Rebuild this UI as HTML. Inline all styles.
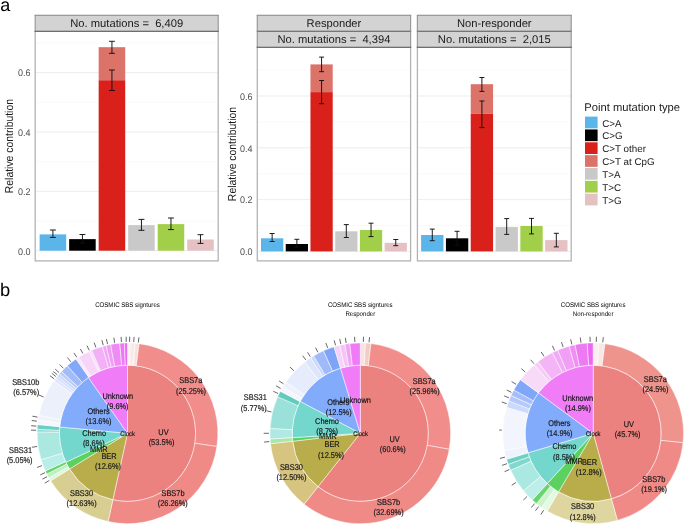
<!DOCTYPE html>
<html><head><meta charset="utf-8"><style>
html,body{margin:0;padding:0;background:#fff;}
svg{display:block;font-family:"Liberation Sans", sans-serif;will-change:transform;text-rendering:geometricPrecision;}
</style></head><body>
<svg width="685" height="525" viewBox="0 0 685 525">
<rect width="685" height="525" fill="#fff"/>
<rect x="35.2" y="31.3" width="183" height="229.6" fill="#fff"/>
<line x1="35.2" x2="218.2" y1="250.7" y2="250.7" stroke="#EBEBEB" stroke-width="0.9"/>
<line x1="35.2" x2="218.2" y1="221.02" y2="221.02" stroke="#F5F5F5" stroke-width="0.6"/>
<line x1="35.2" x2="218.2" y1="191.34" y2="191.34" stroke="#EBEBEB" stroke-width="0.9"/>
<line x1="35.2" x2="218.2" y1="161.66" y2="161.66" stroke="#F5F5F5" stroke-width="0.6"/>
<line x1="35.2" x2="218.2" y1="131.98" y2="131.98" stroke="#EBEBEB" stroke-width="0.9"/>
<line x1="35.2" x2="218.2" y1="102.3" y2="102.3" stroke="#F5F5F5" stroke-width="0.6"/>
<line x1="35.2" x2="218.2" y1="72.62" y2="72.62" stroke="#EBEBEB" stroke-width="0.9"/>
<line x1="35.2" x2="218.2" y1="42.94" y2="42.94" stroke="#F5F5F5" stroke-width="0.6"/>
<rect x="39.63" y="234.38" width="26.56" height="16.32" fill="#5BB5E8"/>
<rect x="69.14" y="239.12" width="26.56" height="11.58" fill="#000000"/>
<rect x="98.66" y="80.19" width="26.56" height="170.51" fill="#D9201A"/>
<rect x="98.66" y="47.18" width="26.56" height="33" fill="#DC7369"/>
<rect x="128.18" y="225.12" width="26.56" height="25.58" fill="#C9C9C9"/>
<rect x="157.69" y="224.11" width="26.56" height="26.59" fill="#A1CF49"/>
<rect x="187.21" y="239.51" width="26.56" height="11.19" fill="#E5C1C4"/>
<path d="M49.96 230H55.86M52.91 230V237.4M49.96 237.4H55.86" stroke="#111" stroke-width="0.95" fill="none"/>
<path d="M79.47 234.5H85.38M82.43 234.5V243M79.47 243H85.38" stroke="#111" stroke-width="0.95" fill="none"/>
<path d="M108.99 70H114.89M111.94 70V90.5M108.99 90.5H114.89" stroke="#111" stroke-width="0.95" fill="none"/>
<path d="M108.99 41.3H114.89M111.94 41.3V53.3M108.99 53.3H114.89" stroke="#111" stroke-width="0.95" fill="none"/>
<path d="M138.51 219.4H144.41M141.46 219.4V230.3M138.51 230.3H144.41" stroke="#111" stroke-width="0.95" fill="none"/>
<path d="M168.02 218H173.93M170.97 218V229.6M168.02 229.6H173.93" stroke="#111" stroke-width="0.95" fill="none"/>
<path d="M197.54 234.7H203.44M200.49 234.7V243.4M197.54 243.4H203.44" stroke="#111" stroke-width="0.95" fill="none"/>
<rect x="35.2" y="31.3" width="183" height="229.6" fill="none" stroke="#B3B3B3" stroke-width="1.3"/>
<rect x="35.2" y="15.3" width="183" height="16" fill="#D3D3D3"/>
<path d="M35.2 15.3V31.3M218.2 15.3V31.3" stroke="#9A9A9A" stroke-width="1.2"/>
<path d="M34.6 31.3H218.8" stroke="#555" stroke-width="1.1"/>
<path d="M34.6 15.3H218.8" stroke="#858585" stroke-width="1.1"/>
<text x="126.7" y="27" font-size="11.2" fill="#1A1A1A" text-anchor="middle" xml:space="preserve">No. mutations =  6,409</text>
<text transform="translate(30.6,254.5) scale(1,1.07)" font-size="9" fill="#4D4D4D" text-anchor="end">0.0</text>
<text transform="translate(30.6,195.14) scale(1,1.07)" font-size="9" fill="#4D4D4D" text-anchor="end">0.2</text>
<text transform="translate(30.6,135.78) scale(1,1.07)" font-size="9" fill="#4D4D4D" text-anchor="end">0.4</text>
<text transform="translate(30.6,76.42) scale(1,1.07)" font-size="9" fill="#4D4D4D" text-anchor="end">0.6</text>
<text transform="translate(13.4,146.1) rotate(-90) scale(1,1.1)" font-size="10.4" fill="#1A1A1A" text-anchor="middle">Relative contribution</text>
<rect x="257.3" y="47.2" width="153.3" height="213.7" fill="#fff"/>
<line x1="257.3" x2="410.6" y1="251.4" y2="251.4" stroke="#EBEBEB" stroke-width="0.9"/>
<line x1="257.3" x2="410.6" y1="225.5" y2="225.5" stroke="#F5F5F5" stroke-width="0.6"/>
<line x1="257.3" x2="410.6" y1="199.6" y2="199.6" stroke="#EBEBEB" stroke-width="0.9"/>
<line x1="257.3" x2="410.6" y1="173.7" y2="173.7" stroke="#F5F5F5" stroke-width="0.6"/>
<line x1="257.3" x2="410.6" y1="147.8" y2="147.8" stroke="#EBEBEB" stroke-width="0.9"/>
<line x1="257.3" x2="410.6" y1="121.9" y2="121.9" stroke="#F5F5F5" stroke-width="0.6"/>
<line x1="257.3" x2="410.6" y1="96" y2="96" stroke="#EBEBEB" stroke-width="0.9"/>
<line x1="257.3" x2="410.6" y1="70.1" y2="70.1" stroke="#F5F5F5" stroke-width="0.6"/>
<rect x="261.01" y="238.3" width="22.25" height="13.1" fill="#5BB5E8"/>
<rect x="285.73" y="244" width="22.25" height="7.4" fill="#000000"/>
<rect x="310.46" y="92.1" width="22.25" height="159.3" fill="#D9201A"/>
<rect x="310.46" y="64.4" width="22.25" height="27.7" fill="#DC7369"/>
<rect x="335.19" y="231.3" width="22.25" height="20.1" fill="#C9C9C9"/>
<rect x="359.91" y="230" width="22.25" height="21.4" fill="#A1CF49"/>
<rect x="384.64" y="242.8" width="22.25" height="8.6" fill="#E5C1C4"/>
<path d="M269.66 233.5H274.61M272.14 233.5V241.5M269.66 241.5H274.61" stroke="#111" stroke-width="0.95" fill="none"/>
<path d="M294.39 239.3H299.33M296.86 239.3V247M294.39 247H299.33" stroke="#111" stroke-width="0.95" fill="none"/>
<path d="M319.11 80.5H324.06M321.59 80.5V103.7M319.11 103.7H324.06" stroke="#111" stroke-width="0.95" fill="none"/>
<path d="M319.11 57.1H324.06M321.59 57.1V71.7M319.11 71.7H324.06" stroke="#111" stroke-width="0.95" fill="none"/>
<path d="M343.84 224.6H348.79M346.31 224.6V237.5M343.84 237.5H348.79" stroke="#111" stroke-width="0.95" fill="none"/>
<path d="M368.57 223.2H373.51M371.04 223.2V236.6M368.57 236.6H373.51" stroke="#111" stroke-width="0.95" fill="none"/>
<path d="M393.29 239.5H398.24M395.76 239.5V245.7M393.29 245.7H398.24" stroke="#111" stroke-width="0.95" fill="none"/>
<rect x="257.3" y="47.2" width="153.3" height="213.7" fill="none" stroke="#B3B3B3" stroke-width="1.3"/>
<rect x="257.3" y="15.3" width="153.3" height="16" fill="#D3D3D3"/>
<rect x="257.3" y="31.3" width="153.3" height="15.9" fill="#D3D3D3"/>
<path d="M257.3 15.3V31.3M410.6 15.3V31.3" stroke="#9A9A9A" stroke-width="1.2"/>
<path d="M256.7 31.3H411.2" stroke="#555" stroke-width="1.1"/>
<path d="M256.7 15.3H411.2" stroke="#858585" stroke-width="1.1"/>
<text x="333.95" y="27" font-size="11.2" fill="#1A1A1A" text-anchor="middle" xml:space="preserve">Responder</text>
<path d="M257.3 31.3V47.2M410.6 31.3V47.2" stroke="#9A9A9A" stroke-width="1.2"/>
<path d="M256.7 47.2H411.2" stroke="#555" stroke-width="1.1"/>
<text x="333.95" y="42.9" font-size="11.2" fill="#1A1A1A" text-anchor="middle" xml:space="preserve">No. mutations =  4,394</text>
<text transform="translate(252.6,255.2) scale(1,1.07)" font-size="9" fill="#4D4D4D" text-anchor="end">0.0</text>
<text transform="translate(252.6,203.4) scale(1,1.07)" font-size="9" fill="#4D4D4D" text-anchor="end">0.2</text>
<text transform="translate(252.6,151.6) scale(1,1.07)" font-size="9" fill="#4D4D4D" text-anchor="end">0.4</text>
<text transform="translate(252.6,99.8) scale(1,1.07)" font-size="9" fill="#4D4D4D" text-anchor="end">0.6</text>
<text transform="translate(235.5,154.05) rotate(-90) scale(1,1.1)" font-size="10.4" fill="#1A1A1A" text-anchor="middle">Relative contribution</text>
<rect x="417.4" y="47.2" width="153.8" height="213.7" fill="#fff"/>
<line x1="417.4" x2="571.2" y1="251.4" y2="251.4" stroke="#EBEBEB" stroke-width="0.9"/>
<line x1="417.4" x2="571.2" y1="225.5" y2="225.5" stroke="#F5F5F5" stroke-width="0.6"/>
<line x1="417.4" x2="571.2" y1="199.6" y2="199.6" stroke="#EBEBEB" stroke-width="0.9"/>
<line x1="417.4" x2="571.2" y1="173.7" y2="173.7" stroke="#F5F5F5" stroke-width="0.6"/>
<line x1="417.4" x2="571.2" y1="147.8" y2="147.8" stroke="#EBEBEB" stroke-width="0.9"/>
<line x1="417.4" x2="571.2" y1="121.9" y2="121.9" stroke="#F5F5F5" stroke-width="0.6"/>
<line x1="417.4" x2="571.2" y1="96" y2="96" stroke="#EBEBEB" stroke-width="0.9"/>
<line x1="417.4" x2="571.2" y1="70.1" y2="70.1" stroke="#F5F5F5" stroke-width="0.6"/>
<rect x="421.12" y="235" width="22.33" height="16.4" fill="#5BB5E8"/>
<rect x="445.93" y="238.3" width="22.33" height="13.1" fill="#000000"/>
<rect x="470.73" y="113.9" width="22.33" height="137.5" fill="#D9201A"/>
<rect x="470.73" y="84.2" width="22.33" height="29.7" fill="#DC7369"/>
<rect x="495.54" y="226.9" width="22.33" height="24.5" fill="#C9C9C9"/>
<rect x="520.35" y="226" width="22.33" height="25.4" fill="#A1CF49"/>
<rect x="545.15" y="240.1" width="22.33" height="11.3" fill="#E5C1C4"/>
<path d="M429.8 229.1H434.76M432.28 229.1V240.7M429.8 240.7H434.76" stroke="#111" stroke-width="0.95" fill="none"/>
<path d="M454.61 231.3H459.57M457.09 231.3V245.3M454.61 245.3H459.57" stroke="#111" stroke-width="0.95" fill="none"/>
<path d="M479.42 101H484.38M481.9 101V127.6M479.42 127.6H484.38" stroke="#111" stroke-width="0.95" fill="none"/>
<path d="M479.42 77.5H484.38M481.9 77.5V91.4M479.42 91.4H484.38" stroke="#111" stroke-width="0.95" fill="none"/>
<path d="M504.22 218.6H509.18M506.7 218.6V234.4M504.22 234.4H509.18" stroke="#111" stroke-width="0.95" fill="none"/>
<path d="M529.03 218.4H533.99M531.51 218.4V233.9M529.03 233.9H533.99" stroke="#111" stroke-width="0.95" fill="none"/>
<path d="M553.84 233.3H558.8M556.32 233.3V246.9M553.84 246.9H558.8" stroke="#111" stroke-width="0.95" fill="none"/>
<rect x="417.4" y="47.2" width="153.8" height="213.7" fill="none" stroke="#B3B3B3" stroke-width="1.3"/>
<rect x="417.4" y="15.3" width="153.8" height="16" fill="#D3D3D3"/>
<rect x="417.4" y="31.3" width="153.8" height="15.9" fill="#D3D3D3"/>
<path d="M417.4 15.3V31.3M571.2 15.3V31.3" stroke="#9A9A9A" stroke-width="1.2"/>
<path d="M416.8 31.3H571.8" stroke="#555" stroke-width="1.1"/>
<path d="M416.8 15.3H571.8" stroke="#858585" stroke-width="1.1"/>
<text x="494.3" y="27" font-size="11.2" fill="#1A1A1A" text-anchor="middle" xml:space="preserve">Non-responder</text>
<path d="M417.4 31.3V47.2M571.2 31.3V47.2" stroke="#9A9A9A" stroke-width="1.2"/>
<path d="M416.8 47.2H571.8" stroke="#555" stroke-width="1.1"/>
<text x="494.3" y="42.9" font-size="11.2" fill="#1A1A1A" text-anchor="middle" xml:space="preserve">No. mutations =  2,015</text>
<text x="584.3" y="111.2" font-size="11.2" fill="#1A1A1A">Point mutation type</text>
<rect x="585" y="116.6" width="12.6" height="11.7" fill="#5BB5E8"/>
<text x="602.3" y="126.6" font-size="9.8" fill="#1A1A1A">C&gt;A</text>
<rect x="585" y="129.45" width="12.6" height="11.7" fill="#000000"/>
<text x="602.3" y="139.45" font-size="9.8" fill="#1A1A1A">C&gt;G</text>
<rect x="585" y="142.3" width="12.6" height="11.7" fill="#D9201A"/>
<text x="602.3" y="152.3" font-size="9.8" fill="#1A1A1A">C&gt;T other</text>
<rect x="585" y="155.15" width="12.6" height="11.7" fill="#DC7369"/>
<text x="602.3" y="165.15" font-size="9.8" fill="#1A1A1A">C&gt;T at CpG</text>
<rect x="585" y="168" width="12.6" height="11.7" fill="#C9C9C9"/>
<text x="602.3" y="178" font-size="9.8" fill="#1A1A1A">T&gt;A</text>
<rect x="585" y="180.85" width="12.6" height="11.7" fill="#A1CF49"/>
<text x="602.3" y="190.85" font-size="9.8" fill="#1A1A1A">T&gt;C</text>
<rect x="585" y="193.7" width="12.6" height="11.7" fill="#E5C1C4"/>
<text x="602.3" y="203.7" font-size="9.8" fill="#1A1A1A">T&gt;G</text>
<text x="0.3" y="10.7" font-size="18" fill="#000">a</text>
<text x="0.1" y="295.8" font-size="18.3" fill="#000">b</text>
<path d="M127.5 433.3L127.5 365.2A68.1 68.1 0 1 1 112.88 499.81Z" fill="#EB8280" stroke="#fff" stroke-width="0.5"/>
<path d="M127.5 433.3L112.88 499.81A68.1 68.1 0 0 1 69.5 468.98Z" fill="#B9AC4B" stroke="#fff" stroke-width="0.5"/>
<path d="M127.5 433.3L69.5 468.98A68.1 68.1 0 0 1 65.88 462.3Z" fill="#5CD160" stroke="#fff" stroke-width="0.5"/>
<path d="M127.5 433.3L65.88 462.3A68.1 68.1 0 0 1 59.69 427.01Z" fill="#73D7CE" stroke="#fff" stroke-width="0.5"/>
<path d="M127.5 433.3L59.69 427.01A68.1 68.1 0 0 1 88.44 377.52Z" fill="#82ACFB" stroke="#fff" stroke-width="0.5"/>
<path d="M127.5 433.3L88.44 377.52A68.1 68.1 0 0 1 127.5 365.2Z" fill="#F07DF7" stroke="#fff" stroke-width="0.5"/>
<path d="M127.5 342.9A90.4 90.4 0 0 1 130.34 342.94L129.64 365.23A68.1 68.1 0 0 0 127.5 365.2Z" fill="#F9F1F0" stroke="#fff" stroke-width="0.5"/>
<path d="M130.34 342.94A90.4 90.4 0 0 1 135.22 343.23L133.32 365.45A68.1 68.1 0 0 0 129.64 365.23Z" fill="#F7EAE8" stroke="#fff" stroke-width="0.5"/>
<path d="M135.22 343.23A90.4 90.4 0 0 1 139.14 343.65L136.27 365.77A68.1 68.1 0 0 0 133.32 365.45Z" fill="#F5E2DF" stroke="#fff" stroke-width="0.5"/>
<path d="M139.14 343.65A90.4 90.4 0 0 1 216.93 446.51L194.87 443.25A68.1 68.1 0 0 0 136.27 365.77Z" fill="#F18E8B" stroke="#fff" stroke-width="0.5"/>
<path d="M216.93 446.51A90.4 90.4 0 0 1 108.09 521.59L112.88 499.81A68.1 68.1 0 0 0 194.87 443.25Z" fill="#EF8A87" stroke="#fff" stroke-width="0.5"/>
<path d="M108.09 521.59A90.4 90.4 0 0 1 50.59 480.8L69.56 469.08A68.1 68.1 0 0 0 112.88 499.81Z" fill="#D8CE92" stroke="#fff" stroke-width="0.5"/>
<path d="M50.59 480.8A90.4 90.4 0 0 1 48.82 477.82L68.23 466.83A68.1 68.1 0 0 0 69.56 469.08Z" fill="#DDF7DD" stroke="#fff" stroke-width="0.5"/>
<path d="M48.82 477.82A90.4 90.4 0 0 1 46.74 473.92L66.66 463.9A68.1 68.1 0 0 0 68.23 466.83Z" fill="#BFF0C0" stroke="#fff" stroke-width="0.5"/>
<path d="M46.74 473.92A90.4 90.4 0 0 1 45.31 470.93L65.58 461.65A68.1 68.1 0 0 0 66.66 463.9Z" fill="#66D36A" stroke="#fff" stroke-width="0.5"/>
<path d="M45.31 470.93A90.4 90.4 0 0 1 41.05 459.73L62.38 453.21A68.1 68.1 0 0 0 65.58 461.65Z" fill="#B8EDE8" stroke="#fff" stroke-width="0.5"/>
<path d="M41.05 459.73A90.4 90.4 0 0 1 37.11 431.88L59.41 432.23A68.1 68.1 0 0 0 62.38 453.21Z" fill="#AAE8E0" stroke="#fff" stroke-width="0.5"/>
<path d="M37.11 431.88A90.4 90.4 0 0 1 37.19 429.36L59.46 430.33A68.1 68.1 0 0 0 59.41 432.23Z" fill="#8ADCD1" stroke="#fff" stroke-width="0.5"/>
<path d="M37.19 429.36A90.4 90.4 0 0 1 37.53 424.48L59.73 426.65A68.1 68.1 0 0 0 59.46 430.33Z" fill="#6CCFC2" stroke="#fff" stroke-width="0.5"/>
<path d="M37.53 424.48A90.4 90.4 0 0 1 38.09 419.94L60.15 423.23A68.1 68.1 0 0 0 59.73 426.65Z" fill="#F5F7FD" stroke="#fff" stroke-width="0.5"/>
<path d="M38.09 419.94A90.4 90.4 0 0 1 38.91 415.28L60.77 419.72A68.1 68.1 0 0 0 60.15 423.23Z" fill="#EFF2FC" stroke="#fff" stroke-width="0.5"/>
<path d="M38.91 415.28A90.4 90.4 0 0 1 54 380.68L72.13 393.66A68.1 68.1 0 0 0 60.77 419.72Z" fill="#EBF0FB" stroke="#fff" stroke-width="0.5"/>
<path d="M54 380.68A90.4 90.4 0 0 1 55.78 378.27L73.47 391.84A68.1 68.1 0 0 0 72.13 393.66Z" fill="#DDE5FC" stroke="#fff" stroke-width="0.5"/>
<path d="M55.78 378.27A90.4 90.4 0 0 1 57.45 376.16L74.73 390.26A68.1 68.1 0 0 0 73.47 391.84Z" fill="#D3DEFC" stroke="#fff" stroke-width="0.5"/>
<path d="M57.45 376.16A90.4 90.4 0 0 1 59.27 373.99L76.1 388.62A68.1 68.1 0 0 0 74.73 390.26Z" fill="#C9D7FB" stroke="#fff" stroke-width="0.5"/>
<path d="M59.27 373.99A90.4 90.4 0 0 1 61.6 371.42L77.86 386.68A68.1 68.1 0 0 0 76.1 388.62Z" fill="#BBCDFB" stroke="#fff" stroke-width="0.5"/>
<path d="M61.6 371.42A90.4 90.4 0 0 1 67.36 365.8L82.2 382.45A68.1 68.1 0 0 0 77.86 386.68Z" fill="#A2BCFA" stroke="#fff" stroke-width="0.5"/>
<path d="M67.36 365.8A90.4 90.4 0 0 1 76.04 358.98L88.73 377.31A68.1 68.1 0 0 0 82.2 382.45Z" fill="#83A8F8" stroke="#fff" stroke-width="0.5"/>
<path d="M76.04 358.98A90.4 90.4 0 0 1 77.34 358.09L89.72 376.64A68.1 68.1 0 0 0 88.73 377.31Z" fill="#F7DCF9" stroke="#fff" stroke-width="0.5"/>
<path d="M77.34 358.09A90.4 90.4 0 0 1 78.66 357.23L90.71 375.99A68.1 68.1 0 0 0 89.72 376.64Z" fill="#F7D9F9" stroke="#fff" stroke-width="0.5"/>
<path d="M78.66 357.23A90.4 90.4 0 0 1 89.15 351.44L98.61 371.63A68.1 68.1 0 0 0 90.71 375.99Z" fill="#F6D5F8" stroke="#fff" stroke-width="0.5"/>
<path d="M89.15 351.44A90.4 90.4 0 0 1 90.44 350.84L99.58 371.18A68.1 68.1 0 0 0 98.61 371.63Z" fill="#F5CCF8" stroke="#fff" stroke-width="0.5"/>
<path d="M90.44 350.84A90.4 90.4 0 0 1 91.74 350.27L100.56 370.75A68.1 68.1 0 0 0 99.58 371.18Z" fill="#F4C4F7" stroke="#fff" stroke-width="0.5"/>
<path d="M91.74 350.27A90.4 90.4 0 0 1 102.43 346.45L108.61 367.87A68.1 68.1 0 0 0 100.56 370.75Z" fill="#F2B1F6" stroke="#fff" stroke-width="0.5"/>
<path d="M102.43 346.45A90.4 90.4 0 0 1 106.09 345.47L111.37 367.14A68.1 68.1 0 0 0 108.61 367.87Z" fill="#F1A6F5" stroke="#fff" stroke-width="0.5"/>
<path d="M106.09 345.47A90.4 90.4 0 0 1 110.56 344.5L114.74 366.41A68.1 68.1 0 0 0 111.37 367.14Z" fill="#F09CF5" stroke="#fff" stroke-width="0.5"/>
<path d="M110.56 344.5A90.4 90.4 0 0 1 119.78 343.23L121.68 365.45A68.1 68.1 0 0 0 114.74 366.41Z" fill="#EF8BF4" stroke="#fff" stroke-width="0.5"/>
<path d="M119.78 343.23A90.4 90.4 0 0 1 124.5 342.95L125.24 365.24A68.1 68.1 0 0 0 121.68 365.45Z" fill="#ED7AF2" stroke="#fff" stroke-width="0.5"/>
<path d="M124.5 342.95A90.4 90.4 0 0 1 127.5 342.9L127.5 365.2A68.1 68.1 0 0 0 125.24 365.24Z" fill="#EB6BF1" stroke="#fff" stroke-width="0.5"/>
<line x1="89.16" y1="350.33" x2="86.98" y2="345.61" stroke="#404040" stroke-width="0.8"/>
<line x1="95.94" y1="347.52" x2="94.14" y2="342.64" stroke="#404040" stroke-width="0.8"/>
<line x1="103.23" y1="345.18" x2="101.85" y2="340.17" stroke="#404040" stroke-width="0.8"/>
<line x1="107.56" y1="344.1" x2="106.43" y2="339.03" stroke="#404040" stroke-width="0.8"/>
<line x1="114.62" y1="342.81" x2="113.89" y2="337.66" stroke="#404040" stroke-width="0.8"/>
<line x1="121.44" y1="342.1" x2="121.1" y2="336.91" stroke="#404040" stroke-width="0.8"/>
<line x1="126.22" y1="341.91" x2="126.15" y2="336.71" stroke="#404040" stroke-width="0.8"/>
<line x1="129.57" y1="341.92" x2="129.69" y2="336.72" stroke="#404040" stroke-width="0.8"/>
<line x1="133.72" y1="342.11" x2="134.07" y2="336.92" stroke="#404040" stroke-width="0.8"/>
<line x1="138.32" y1="342.54" x2="138.94" y2="337.38" stroke="#404040" stroke-width="0.8"/>
<line x1="82.91" y1="353.51" x2="80.37" y2="348.98" stroke="#404040" stroke-width="0.8"/>
<line x1="76.79" y1="357.26" x2="73.9" y2="352.93" stroke="#404040" stroke-width="0.8"/>
<line x1="70.73" y1="361.67" x2="67.5" y2="357.6" stroke="#404040" stroke-width="0.8"/>
<line x1="63.32" y1="368.22" x2="59.67" y2="364.52" stroke="#404040" stroke-width="0.8"/>
<line x1="59.15" y1="372.62" x2="55.26" y2="369.16" stroke="#404040" stroke-width="0.8"/>
<line x1="57.28" y1="374.79" x2="53.28" y2="371.47" stroke="#404040" stroke-width="0.8"/>
<line x1="55.87" y1="376.53" x2="51.8" y2="373.3" stroke="#404040" stroke-width="0.8"/>
<line x1="54.12" y1="378.81" x2="49.95" y2="375.7" stroke="#404040" stroke-width="0.8"/>
<line x1="37.54" y1="417.11" x2="32.43" y2="416.19" stroke="#404040" stroke-width="0.8"/>
<line x1="36.9" y1="421.21" x2="31.75" y2="420.52" stroke="#404040" stroke-width="0.8"/>
<line x1="36.38" y1="426.13" x2="31.2" y2="425.72" stroke="#404040" stroke-width="0.8"/>
<line x1="36.15" y1="430.27" x2="30.95" y2="430.1" stroke="#404040" stroke-width="0.8"/>
<line x1="42" y1="465.61" x2="37.14" y2="467.45" stroke="#404040" stroke-width="0.8"/>
<line x1="45" y1="472.65" x2="40.31" y2="474.89" stroke="#404040" stroke-width="0.8"/>
<line x1="47.02" y1="476.63" x2="42.45" y2="479.1" stroke="#404040" stroke-width="0.8"/>
<line x1="49.24" y1="480.51" x2="44.78" y2="483.2" stroke="#404040" stroke-width="0.8"/>
<line x1="43.62" y1="397" x2="38.84" y2="394.94" stroke="#404040" stroke-width="0.8"/>
<line x1="37.06" y1="446.49" x2="31.91" y2="447.24" stroke="#404040" stroke-width="0.8"/>
<text transform="translate(190.8,383.4) scale(1,1.13)" font-size="7.4" fill="#151515" stroke="#151515" stroke-width="0.15" text-anchor="middle">SBS7a</text>
<text transform="translate(191,393.65) scale(1,1.13)" font-size="7.4" fill="#151515" stroke="#151515" stroke-width="0.15" text-anchor="middle">(25.25%)</text>
<text transform="translate(163.5,434.8) scale(1,1.13)" font-size="7.4" fill="#151515" stroke="#151515" stroke-width="0.15" text-anchor="middle">UV</text>
<text transform="translate(161.6,445.05) scale(1,1.13)" font-size="7.4" fill="#151515" stroke="#151515" stroke-width="0.15" text-anchor="middle">(53.5%)</text>
<text transform="translate(173,495.6) scale(1,1.13)" font-size="7.4" fill="#151515" stroke="#151515" stroke-width="0.15" text-anchor="middle">SBS7b</text>
<text transform="translate(172.7,505.85) scale(1,1.13)" font-size="7.4" fill="#151515" stroke="#151515" stroke-width="0.15" text-anchor="middle">(26.26%)</text>
<text transform="translate(81.5,495.6) scale(1,1.13)" font-size="7.4" fill="#151515" stroke="#151515" stroke-width="0.15" text-anchor="middle">SBS30</text>
<text transform="translate(81.6,505.85) scale(1,1.13)" font-size="7.4" fill="#151515" stroke="#151515" stroke-width="0.15" text-anchor="middle">(12.63%)</text>
<text transform="translate(109,459) scale(1,1.13)" font-size="7.4" fill="#151515" stroke="#151515" stroke-width="0.15" text-anchor="middle">BER</text>
<text transform="translate(108,469.25) scale(1,1.13)" font-size="7.4" fill="#151515" stroke="#151515" stroke-width="0.15" text-anchor="middle">(12.6%)</text>
<text transform="translate(98.8,452.1) scale(1,1.13)" font-size="7.4" fill="#151515" stroke="#151515" stroke-width="0.15" text-anchor="middle">MMR</text>
<text transform="translate(94.1,436.1) scale(1,1.13)" font-size="7.4" fill="#151515" stroke="#151515" stroke-width="0.15" text-anchor="middle">Chemo</text>
<text transform="translate(93.8,446.35) scale(1,1.13)" font-size="7.4" fill="#151515" stroke="#151515" stroke-width="0.15" text-anchor="middle">(8.6%)</text>
<text transform="translate(98.5,413.9) scale(1,1.13)" font-size="7.4" fill="#151515" stroke="#151515" stroke-width="0.15" text-anchor="middle">Others</text>
<text transform="translate(98.5,424.15) scale(1,1.13)" font-size="7.4" fill="#151515" stroke="#151515" stroke-width="0.15" text-anchor="middle">(13.6%)</text>
<text transform="translate(117.8,398.7) scale(1,1.13)" font-size="7.4" fill="#151515" stroke="#151515" stroke-width="0.15" text-anchor="middle">Unknown</text>
<text transform="translate(117.7,408.95) scale(1,1.13)" font-size="7.4" fill="#151515" stroke="#151515" stroke-width="0.15" text-anchor="middle">(9.6%)</text>
<text transform="translate(127.6,436.4) scale(1,1.13)" font-size="5.9" fill="#151515" stroke="#151515" stroke-width="0.15" text-anchor="middle">Clock</text>
<text transform="translate(25.7,385) scale(1,1.13)" font-size="7.4" fill="#151515" stroke="#151515" stroke-width="0.15" text-anchor="middle">SBS10b</text>
<text transform="translate(26.2,395.25) scale(1,1.13)" font-size="7.4" fill="#151515" stroke="#151515" stroke-width="0.15" text-anchor="middle">(6.57%)</text>
<text transform="translate(20.5,453) scale(1,1.13)" font-size="7.4" fill="#151515" stroke="#151515" stroke-width="0.15" text-anchor="middle">SBS31</text>
<text transform="translate(19.6,463.25) scale(1,1.13)" font-size="7.4" fill="#151515" stroke="#151515" stroke-width="0.15" text-anchor="middle">(5.05%)</text>
<text transform="translate(127.5,307.4) scale(1,1.1)" font-size="6.1" fill="#000" text-anchor="middle">COSMIC SBS signtures</text>
<path d="M360.3 433.3L360.3 365.2A68.1 68.1 0 1 1 318 486.67Z" fill="#EB8280" stroke="#fff" stroke-width="0.5"/>
<path d="M360.3 433.3L318 486.67A68.1 68.1 0 0 1 292.67 441.25Z" fill="#B9AC4B" stroke="#fff" stroke-width="0.5"/>
<path d="M360.3 433.3L292.67 441.25A68.1 68.1 0 0 1 292.34 437.69Z" fill="#5CD160" stroke="#fff" stroke-width="0.5"/>
<path d="M360.3 433.3L292.34 437.69A68.1 68.1 0 0 1 300.17 401.33Z" fill="#73D7CE" stroke="#fff" stroke-width="0.5"/>
<path d="M360.3 433.3L300.17 401.33A68.1 68.1 0 0 1 340.5 368.14Z" fill="#82ACFB" stroke="#fff" stroke-width="0.5"/>
<path d="M360.3 433.3L340.5 368.14A68.1 68.1 0 0 1 360.3 365.2Z" fill="#F07DF7" stroke="#fff" stroke-width="0.5"/>
<path d="M360.3 342.9A90.4 90.4 0 0 1 365.5 343.05L364.22 365.31A68.1 68.1 0 0 0 360.3 365.2Z" fill="#F6E2E0" stroke="#fff" stroke-width="0.5"/>
<path d="M365.5 343.05A90.4 90.4 0 0 1 371 343.54L368.36 365.68A68.1 68.1 0 0 0 364.22 365.31Z" fill="#F3CBC7" stroke="#fff" stroke-width="0.5"/>
<path d="M371 343.54A90.4 90.4 0 0 1 449.27 449.31L427.32 445.36A68.1 68.1 0 0 0 368.36 365.68Z" fill="#F18E8B" stroke="#fff" stroke-width="0.5"/>
<path d="M449.27 449.31A90.4 90.4 0 0 1 304.15 504.15L318 486.67A68.1 68.1 0 0 0 427.32 445.36Z" fill="#EF8A87" stroke="#fff" stroke-width="0.5"/>
<path d="M304.15 504.15A90.4 90.4 0 0 1 270.5 443.69L292.65 441.13A68.1 68.1 0 0 0 318 486.67Z" fill="#D6C480" stroke="#fff" stroke-width="0.5"/>
<path d="M270.5 443.69A90.4 90.4 0 0 1 270.08 438.98L292.33 437.58A68.1 68.1 0 0 0 292.65 441.13Z" fill="#A8E8A5" stroke="#fff" stroke-width="0.5"/>
<path d="M270.08 438.98A90.4 90.4 0 0 1 270.03 428.41L292.3 429.62A68.1 68.1 0 0 0 292.33 437.58Z" fill="#B0E9E3" stroke="#fff" stroke-width="0.5"/>
<path d="M270.03 428.41A90.4 90.4 0 0 1 277.65 396.68L298.04 405.71A68.1 68.1 0 0 0 292.3 429.62Z" fill="#9AE1D9" stroke="#fff" stroke-width="0.5"/>
<path d="M277.65 396.68A90.4 90.4 0 0 1 280.33 391.14L300.06 401.54A68.1 68.1 0 0 0 298.04 405.71Z" fill="#62CBBC" stroke="#fff" stroke-width="0.5"/>
<path d="M280.33 391.14A90.4 90.4 0 0 1 282.81 386.74L301.93 398.23A68.1 68.1 0 0 0 300.06 401.54Z" fill="#F4F6FD" stroke="#fff" stroke-width="0.5"/>
<path d="M282.81 386.74A90.4 90.4 0 0 1 285.8 382.1L304.18 394.73A68.1 68.1 0 0 0 301.93 398.23Z" fill="#EEF1FC" stroke="#fff" stroke-width="0.5"/>
<path d="M285.8 382.1A90.4 90.4 0 0 1 304.77 361.97L318.47 379.56A68.1 68.1 0 0 0 304.18 394.73Z" fill="#E6ECFC" stroke="#fff" stroke-width="0.5"/>
<path d="M304.77 361.97A90.4 90.4 0 0 1 310.67 357.74L322.91 376.38A68.1 68.1 0 0 0 318.47 379.56Z" fill="#DCE5FC" stroke="#fff" stroke-width="0.5"/>
<path d="M310.67 357.74A90.4 90.4 0 0 1 313.61 355.89L325.12 374.99A68.1 68.1 0 0 0 322.91 376.38Z" fill="#C8D7FB" stroke="#fff" stroke-width="0.5"/>
<path d="M313.61 355.89A90.4 90.4 0 0 1 323.53 350.72L332.6 371.09A68.1 68.1 0 0 0 325.12 374.99Z" fill="#A0BAF9" stroke="#fff" stroke-width="0.5"/>
<path d="M323.53 350.72A90.4 90.4 0 0 1 334.02 346.8L340.5 368.14A68.1 68.1 0 0 0 332.6 371.09Z" fill="#7EA4F8" stroke="#fff" stroke-width="0.5"/>
<path d="M334.02 346.8A90.4 90.4 0 0 1 339.66 345.29L344.75 367A68.1 68.1 0 0 0 340.5 368.14Z" fill="#F6D2F8" stroke="#fff" stroke-width="0.5"/>
<path d="M339.66 345.29A90.4 90.4 0 0 1 344.91 344.22L348.71 366.19A68.1 68.1 0 0 0 344.75 367Z" fill="#F4C4F7" stroke="#fff" stroke-width="0.5"/>
<path d="M344.91 344.22A90.4 90.4 0 0 1 349.75 343.52L352.35 365.67A68.1 68.1 0 0 0 348.71 366.19Z" fill="#F1A3F5" stroke="#fff" stroke-width="0.5"/>
<path d="M349.75 343.52A90.4 90.4 0 0 1 360.3 342.9L360.3 365.2A68.1 68.1 0 0 0 352.35 365.67Z" fill="#EF7CF6" stroke="#fff" stroke-width="0.5"/>
<line x1="278.01" y1="393.52" x2="273.33" y2="391.26" stroke="#404040" stroke-width="0.8"/>
<line x1="280.67" y1="388.43" x2="276.14" y2="385.88" stroke="#404040" stroke-width="0.8"/>
<line x1="283.47" y1="383.79" x2="279.1" y2="380.97" stroke="#404040" stroke-width="0.8"/>
<line x1="293.78" y1="370.62" x2="290" y2="367.05" stroke="#404040" stroke-width="0.8"/>
<line x1="305.81" y1="359.92" x2="302.7" y2="355.75" stroke="#404040" stroke-width="0.8"/>
<line x1="310.39" y1="356.73" x2="307.55" y2="352.38" stroke="#404040" stroke-width="0.8"/>
<line x1="317.95" y1="352.3" x2="315.55" y2="347.69" stroke="#404040" stroke-width="0.8"/>
<line x1="327.69" y1="347.91" x2="325.84" y2="343.06" stroke="#404040" stroke-width="0.8"/>
<line x1="335.57" y1="345.31" x2="334.16" y2="340.3" stroke="#404040" stroke-width="0.8"/>
<line x1="340.83" y1="344" x2="339.72" y2="338.92" stroke="#404040" stroke-width="0.8"/>
<line x1="346.16" y1="343" x2="345.35" y2="337.86" stroke="#404040" stroke-width="0.8"/>
<line x1="354.88" y1="342.06" x2="354.57" y2="336.87" stroke="#404040" stroke-width="0.8"/>
<line x1="363.33" y1="341.95" x2="363.5" y2="336.75" stroke="#404040" stroke-width="0.8"/>
<line x1="369.06" y1="342.32" x2="369.56" y2="337.14" stroke="#404040" stroke-width="0.8"/>
<line x1="268.9" y1="433.3" x2="263.7" y2="433.3" stroke="#404040" stroke-width="0.8"/>
<line x1="269.28" y1="441.58" x2="264.1" y2="442.06" stroke="#404040" stroke-width="0.8"/>
<line x1="271.43" y1="411.96" x2="266.37" y2="410.75" stroke="#404040" stroke-width="0.8"/>
<text transform="translate(424.2,384.1) scale(1,1.13)" font-size="7.4" fill="#151515" stroke="#151515" stroke-width="0.15" text-anchor="middle">SBS7a</text>
<text transform="translate(424.6,394.35) scale(1,1.13)" font-size="7.4" fill="#151515" stroke="#151515" stroke-width="0.15" text-anchor="middle">(25.96%)</text>
<text transform="translate(394.6,442) scale(1,1.13)" font-size="7.4" fill="#151515" stroke="#151515" stroke-width="0.15" text-anchor="middle">UV</text>
<text transform="translate(392.8,452.25) scale(1,1.13)" font-size="7.4" fill="#151515" stroke="#151515" stroke-width="0.15" text-anchor="middle">(60.6%)</text>
<text transform="translate(388.6,504.5) scale(1,1.13)" font-size="7.4" fill="#151515" stroke="#151515" stroke-width="0.15" text-anchor="middle">SBS7b</text>
<text transform="translate(388.6,514.75) scale(1,1.13)" font-size="7.4" fill="#151515" stroke="#151515" stroke-width="0.15" text-anchor="middle">(32.69%)</text>
<text transform="translate(291.4,469.6) scale(1,1.13)" font-size="7.4" fill="#151515" stroke="#151515" stroke-width="0.15" text-anchor="middle">SBS30</text>
<text transform="translate(291.4,479.85) scale(1,1.13)" font-size="7.4" fill="#151515" stroke="#151515" stroke-width="0.15" text-anchor="middle">(12.50%)</text>
<text transform="translate(332.1,447.3) scale(1,1.13)" font-size="7.4" fill="#151515" stroke="#151515" stroke-width="0.15" text-anchor="middle">BER</text>
<text transform="translate(331,457.55) scale(1,1.13)" font-size="7.4" fill="#151515" stroke="#151515" stroke-width="0.15" text-anchor="middle">(12.5%)</text>
<text transform="translate(327.8,439) scale(1,1.13)" font-size="7.4" fill="#151515" stroke="#151515" stroke-width="0.15" text-anchor="middle">MMR</text>
<text transform="translate(327,424) scale(1,1.13)" font-size="7.4" fill="#151515" stroke="#151515" stroke-width="0.15" text-anchor="middle">Chemo</text>
<text transform="translate(327.2,434.25) scale(1,1.13)" font-size="7.4" fill="#151515" stroke="#151515" stroke-width="0.15" text-anchor="middle">(8.7%)</text>
<text transform="translate(338.3,405.1) scale(1,1.13)" font-size="7.4" fill="#151515" stroke="#151515" stroke-width="0.15" text-anchor="middle">Others</text>
<text transform="translate(338.7,415.35) scale(1,1.13)" font-size="7.4" fill="#151515" stroke="#151515" stroke-width="0.15" text-anchor="middle">(12.5%)</text>
<text transform="translate(355.5,402.7) scale(1,1.13)" font-size="7.4" fill="#151515" stroke="#151515" stroke-width="0.15" text-anchor="middle">Unknown</text>
<text transform="translate(360.5,436.4) scale(1,1.13)" font-size="5.9" fill="#151515" stroke="#151515" stroke-width="0.15" text-anchor="middle">Clock</text>
<text transform="translate(255.3,400.2) scale(1,1.13)" font-size="7.4" fill="#151515" stroke="#151515" stroke-width="0.15" text-anchor="middle">SBS31</text>
<text transform="translate(253.8,411.2) scale(1,1.13)" font-size="7.4" fill="#151515" stroke="#151515" stroke-width="0.15" text-anchor="middle">(5.77%)</text>
<text transform="translate(360.3,307.4) scale(1,1.1)" font-size="6.1" fill="#000" text-anchor="middle">COSMIC SBS signtures</text>
<text transform="translate(360.3,316.2) scale(1,1.1)" font-size="6.1" fill="#000" text-anchor="middle">Responder</text>
<path d="M593.2 433.3L593.2 365.2A68.1 68.1 0 0 1 611.4 498.92Z" fill="#EB8280" stroke="#fff" stroke-width="0.5"/>
<path d="M593.2 433.3L611.4 498.92A68.1 68.1 0 0 1 558.53 491.92Z" fill="#B9AC4B" stroke="#fff" stroke-width="0.5"/>
<path d="M593.2 433.3L558.53 491.92A68.1 68.1 0 0 1 547.28 483.59Z" fill="#5CD160" stroke="#fff" stroke-width="0.5"/>
<path d="M593.2 433.3L547.28 483.59A68.1 68.1 0 0 1 527.97 452.87Z" fill="#73D7CE" stroke="#fff" stroke-width="0.5"/>
<path d="M593.2 433.3L527.97 452.87A68.1 68.1 0 0 1 538.39 392.89Z" fill="#82ACFB" stroke="#fff" stroke-width="0.5"/>
<path d="M593.2 433.3L538.39 392.89A68.1 68.1 0 0 1 593.2 365.2Z" fill="#F07DF7" stroke="#fff" stroke-width="0.5"/>
<path d="M593.2 342.9A90.4 90.4 0 0 1 598.88 343.08L597.48 365.33A68.1 68.1 0 0 0 593.2 365.2Z" fill="#F8F0EF" stroke="#fff" stroke-width="0.5"/>
<path d="M598.88 343.08A90.4 90.4 0 0 1 605 343.67L602.09 365.78A68.1 68.1 0 0 0 597.48 365.33Z" fill="#F6E8E6" stroke="#fff" stroke-width="0.5"/>
<path d="M605 343.67A90.4 90.4 0 0 1 683.1 442.75L660.93 440.42A68.1 68.1 0 0 0 602.09 365.78Z" fill="#EF948D" stroke="#fff" stroke-width="0.5"/>
<path d="M683.1 442.75A90.4 90.4 0 0 1 617.36 520.41L611.4 498.92A68.1 68.1 0 0 0 660.93 440.42Z" fill="#EF8A87" stroke="#fff" stroke-width="0.5"/>
<path d="M617.36 520.41A90.4 90.4 0 0 1 547.18 511.11L558.53 491.92A68.1 68.1 0 0 0 611.4 498.92Z" fill="#DED59F" stroke="#fff" stroke-width="0.5"/>
<path d="M547.18 511.11A90.4 90.4 0 0 1 541.61 507.53L554.33 489.22A68.1 68.1 0 0 0 558.53 491.92Z" fill="#E2F9E2" stroke="#fff" stroke-width="0.5"/>
<path d="M541.61 507.53A90.4 90.4 0 0 1 536.43 503.65L550.44 486.3A68.1 68.1 0 0 0 554.33 489.22Z" fill="#CCF3CC" stroke="#fff" stroke-width="0.5"/>
<path d="M536.43 503.65A90.4 90.4 0 0 1 532.24 500.06L547.28 483.59A68.1 68.1 0 0 0 550.44 486.3Z" fill="#6AD56E" stroke="#fff" stroke-width="0.5"/>
<path d="M532.24 500.06A90.4 90.4 0 0 1 523.34 490.68L540.58 476.53A68.1 68.1 0 0 0 547.28 483.59Z" fill="#BEEEEA" stroke="#fff" stroke-width="0.5"/>
<path d="M523.34 490.68A90.4 90.4 0 0 1 510.68 470.21L531.04 461.11A68.1 68.1 0 0 0 540.58 476.53Z" fill="#AAE9E1" stroke="#fff" stroke-width="0.5"/>
<path d="M510.68 470.21A90.4 90.4 0 0 1 508.31 464.37L529.25 456.7A68.1 68.1 0 0 0 531.04 461.11Z" fill="#80D8CD" stroke="#fff" stroke-width="0.5"/>
<path d="M508.31 464.37A90.4 90.4 0 0 1 506.61 459.28L527.97 452.87A68.1 68.1 0 0 0 529.25 456.7Z" fill="#6DD0C4" stroke="#fff" stroke-width="0.5"/>
<path d="M506.61 459.28A90.4 90.4 0 0 1 504.49 450.7L526.37 446.41A68.1 68.1 0 0 0 527.97 452.87Z" fill="#EEF2FD" stroke="#fff" stroke-width="0.5"/>
<path d="M504.49 450.7A90.4 90.4 0 0 1 506.61 407.32L527.97 413.73A68.1 68.1 0 0 0 526.37 446.41Z" fill="#F2F5FD" stroke="#fff" stroke-width="0.5"/>
<path d="M506.61 407.32A90.4 90.4 0 0 1 508.8 400.9L529.62 408.9A68.1 68.1 0 0 0 527.97 413.73Z" fill="#CBD9FC" stroke="#fff" stroke-width="0.5"/>
<path d="M508.8 400.9A90.4 90.4 0 0 1 511.07 395.52L531.33 404.84A68.1 68.1 0 0 0 529.62 408.9Z" fill="#B3C8FB" stroke="#fff" stroke-width="0.5"/>
<path d="M511.07 395.52A90.4 90.4 0 0 1 513.83 390.03L533.41 400.7A68.1 68.1 0 0 0 531.33 404.84Z" fill="#A5BEFA" stroke="#fff" stroke-width="0.5"/>
<path d="M513.83 390.03A90.4 90.4 0 0 1 520.44 379.65L538.39 392.89A68.1 68.1 0 0 0 533.41 400.7Z" fill="#7FA6F8" stroke="#fff" stroke-width="0.5"/>
<path d="M520.44 379.65A90.4 90.4 0 0 1 534.25 364.76L548.79 381.67A68.1 68.1 0 0 0 538.39 392.89Z" fill="#F6DAF8" stroke="#fff" stroke-width="0.5"/>
<path d="M534.25 364.76A90.4 90.4 0 0 1 537.92 361.77L551.56 379.42A68.1 68.1 0 0 0 548.79 381.67Z" fill="#F5CEF8" stroke="#fff" stroke-width="0.5"/>
<path d="M537.92 361.77A90.4 90.4 0 0 1 552.44 352.61L562.5 372.51A68.1 68.1 0 0 0 551.56 379.42Z" fill="#F4B5F6" stroke="#fff" stroke-width="0.5"/>
<path d="M552.44 352.61A90.4 90.4 0 0 1 557.73 350.15L566.48 370.66A68.1 68.1 0 0 0 562.5 372.51Z" fill="#F3AAF6" stroke="#fff" stroke-width="0.5"/>
<path d="M557.73 350.15A90.4 90.4 0 0 1 569.19 346.15L575.12 367.65A68.1 68.1 0 0 0 566.48 370.66Z" fill="#F19FF5" stroke="#fff" stroke-width="0.5"/>
<path d="M569.19 346.15A90.4 90.4 0 0 1 575.02 344.75L579.51 366.59A68.1 68.1 0 0 0 575.12 367.65Z" fill="#EF8EF4" stroke="#fff" stroke-width="0.5"/>
<path d="M575.02 344.75A90.4 90.4 0 0 1 587.21 343.1L588.69 365.35A68.1 68.1 0 0 0 579.51 366.59Z" fill="#ED7AF3" stroke="#fff" stroke-width="0.5"/>
<path d="M587.21 343.1A90.4 90.4 0 0 1 593.2 342.9L593.2 365.2A68.1 68.1 0 0 0 588.69 365.35Z" fill="#EC68F2" stroke="#fff" stroke-width="0.5"/>
<line x1="525.28" y1="372.14" x2="521.41" y2="368.66" stroke="#404040" stroke-width="0.8"/>
<line x1="533.96" y1="363.7" x2="530.59" y2="359.74" stroke="#404040" stroke-width="0.8"/>
<line x1="543.96" y1="356.3" x2="541.15" y2="351.92" stroke="#404040" stroke-width="0.8"/>
<line x1="554.57" y1="350.46" x2="552.38" y2="345.75" stroke="#404040" stroke-width="0.8"/>
<line x1="563.14" y1="346.98" x2="561.43" y2="342.07" stroke="#404040" stroke-width="0.8"/>
<line x1="571.86" y1="344.43" x2="570.65" y2="339.37" stroke="#404040" stroke-width="0.8"/>
<line x1="580.95" y1="342.72" x2="580.26" y2="337.57" stroke="#404040" stroke-width="0.8"/>
<line x1="590.17" y1="341.95" x2="590" y2="336.75" stroke="#404040" stroke-width="0.8"/>
<line x1="596.23" y1="341.95" x2="596.4" y2="336.75" stroke="#404040" stroke-width="0.8"/>
<line x1="602.75" y1="342.4" x2="603.3" y2="337.23" stroke="#404040" stroke-width="0.8"/>
<line x1="516.03" y1="384.33" x2="511.64" y2="381.54" stroke="#404040" stroke-width="0.8"/>
<line x1="511.47" y1="392.37" x2="506.82" y2="390.05" stroke="#404040" stroke-width="0.8"/>
<line x1="508.94" y1="397.88" x2="504.15" y2="395.87" stroke="#404040" stroke-width="0.8"/>
<line x1="506.73" y1="403.69" x2="501.81" y2="402.01" stroke="#404040" stroke-width="0.8"/>
<line x1="501.86" y1="430.11" x2="499.26" y2="430.02" stroke="#404040" stroke-width="0.8"/>
<line x1="504.96" y1="457.11" x2="499.94" y2="458.46" stroke="#404040" stroke-width="0.8"/>
<line x1="506.99" y1="463.66" x2="502.08" y2="465.39" stroke="#404040" stroke-width="0.8"/>
<line x1="509.32" y1="469.6" x2="504.54" y2="471.66" stroke="#404040" stroke-width="0.8"/>
<line x1="516.11" y1="482.41" x2="511.73" y2="485.2" stroke="#404040" stroke-width="0.8"/>
<line x1="527.12" y1="496.45" x2="523.36" y2="500.04" stroke="#404040" stroke-width="0.8"/>
<line x1="534.69" y1="503.52" x2="531.37" y2="507.52" stroke="#404040" stroke-width="0.8"/>
<line x1="538.58" y1="506.58" x2="535.47" y2="510.75" stroke="#404040" stroke-width="0.8"/>
<line x1="543.69" y1="510.13" x2="540.87" y2="514.5" stroke="#404040" stroke-width="0.8"/>
<text transform="translate(655.3,381.8) scale(1,1.13)" font-size="7.4" fill="#151515" stroke="#151515" stroke-width="0.15" text-anchor="middle">SBS7a</text>
<text transform="translate(655.4,392.05) scale(1,1.13)" font-size="7.4" fill="#151515" stroke="#151515" stroke-width="0.15" text-anchor="middle">(24.5%)</text>
<text transform="translate(628.8,426.5) scale(1,1.13)" font-size="7.4" fill="#151515" stroke="#151515" stroke-width="0.15" text-anchor="middle">UV</text>
<text transform="translate(627.6,436.75) scale(1,1.13)" font-size="7.4" fill="#151515" stroke="#151515" stroke-width="0.15" text-anchor="middle">(45.7%)</text>
<text transform="translate(653.8,481.8) scale(1,1.13)" font-size="7.4" fill="#151515" stroke="#151515" stroke-width="0.15" text-anchor="middle">SBS7b</text>
<text transform="translate(654.1,492.05) scale(1,1.13)" font-size="7.4" fill="#151515" stroke="#151515" stroke-width="0.15" text-anchor="middle">(19.1%)</text>
<text transform="translate(582.6,509.3) scale(1,1.13)" font-size="7.4" fill="#151515" stroke="#151515" stroke-width="0.15" text-anchor="middle">SBS30</text>
<text transform="translate(582.8,519.55) scale(1,1.13)" font-size="7.4" fill="#151515" stroke="#151515" stroke-width="0.15" text-anchor="middle">(12.8%)</text>
<text transform="translate(589.5,464.8) scale(1,1.13)" font-size="7.4" fill="#151515" stroke="#151515" stroke-width="0.15" text-anchor="middle">BER</text>
<text transform="translate(588.7,475.05) scale(1,1.13)" font-size="7.4" fill="#151515" stroke="#151515" stroke-width="0.15" text-anchor="middle">(12.8%)</text>
<text transform="translate(574.1,463.9) scale(1,1.13)" font-size="7.4" fill="#151515" stroke="#151515" stroke-width="0.15" text-anchor="middle">MMR</text>
<text transform="translate(564.4,449.4) scale(1,1.13)" font-size="7.4" fill="#151515" stroke="#151515" stroke-width="0.15" text-anchor="middle">Chemo</text>
<text transform="translate(564,459.65) scale(1,1.13)" font-size="7.4" fill="#151515" stroke="#151515" stroke-width="0.15" text-anchor="middle">(8.5%)</text>
<text transform="translate(559.4,426) scale(1,1.13)" font-size="7.4" fill="#151515" stroke="#151515" stroke-width="0.15" text-anchor="middle">Others</text>
<text transform="translate(559.6,436.25) scale(1,1.13)" font-size="7.4" fill="#151515" stroke="#151515" stroke-width="0.15" text-anchor="middle">(14.9%)</text>
<text transform="translate(577.7,400.8) scale(1,1.13)" font-size="7.4" fill="#151515" stroke="#151515" stroke-width="0.15" text-anchor="middle">Unknown</text>
<text transform="translate(577.9,411.05) scale(1,1.13)" font-size="7.4" fill="#151515" stroke="#151515" stroke-width="0.15" text-anchor="middle">(14.9%)</text>
<text transform="translate(593.2,436.4) scale(1,1.13)" font-size="5.9" fill="#151515" stroke="#151515" stroke-width="0.15" text-anchor="middle">Clock</text>
<text transform="translate(593.2,307.4) scale(1,1.1)" font-size="6.1" fill="#000" text-anchor="middle">COSMIC SBS signtures</text>
<text transform="translate(593.2,316.2) scale(1,1.1)" font-size="6.1" fill="#000" text-anchor="middle">Non-responder</text>
</svg></body></html>
